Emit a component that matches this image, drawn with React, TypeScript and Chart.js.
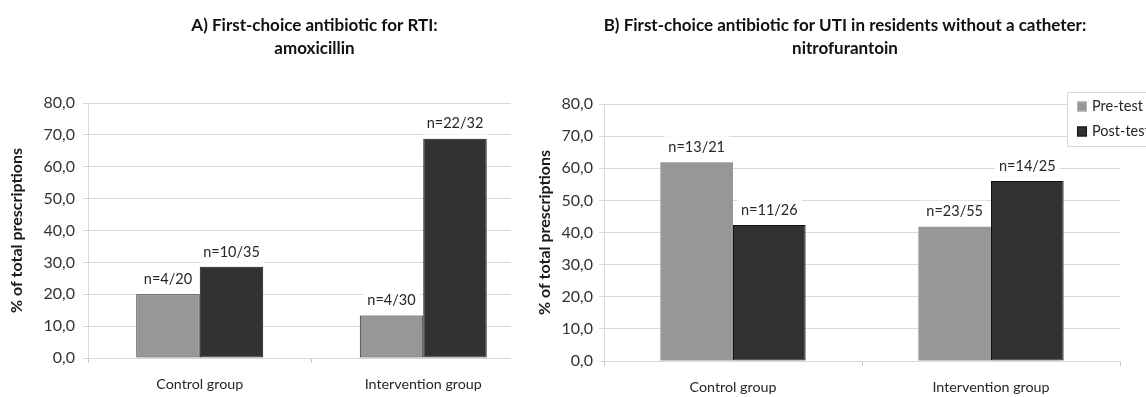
import React, { useEffect, useRef } from 'react';
import { Chart, registerables } from 'chart.js';

Chart.register(...registerables);

// ---------- data ----------
const categories = ['Control group', 'Intervention group'];
const seriesNames = ['Pre-test', 'Post-test'];

const rtiPre = [20.0, 13.3];
const rtiPost = [28.6, 68.8];
const rtiPreLabels = ['n=4/20', 'n=4/30'];
const rtiPostLabels = ['n=10/35', 'n=22/32'];

const utiPre = [61.9, 41.8];
const utiPost = [42.3, 56.0];
const utiPreLabels = ['n=13/21', 'n=23/55'];
const utiPostLabels = ['n=11/26', 'n=14/25'];

const yMin = 0;
const yMax = 80;
const yStep = 10;

const titleA = ['A) First-choice antibiotic for RTI:', 'amoxicillin'];
const titleB = ['B) First-choice antibiotic for UTI in residents without a catheter:', 'nitrofurantoin'];
const yTitle = '% of total prescriptions';

// ---------- styles ----------
const FONT = 'Lato, "DejaVu Sans", sans-serif';
const PRE_COLOR = '#979797';
const POST_COLOR = '#323232';
const GRID = '#d9d9d9';
const TEXT = '#262626';

const barLabelPlugin = {
  id: 'barLabels',
  afterDatasetsDraw(chart: any) {
    const ctx = chart.ctx;
    chart.data.datasets.forEach((ds: any, i: number) => {
      const meta = chart.getDatasetMeta(i);
      meta.data.forEach((el: any, j: number) => {
        const text = ds.nLabels ? ds.nLabels[j] : '';
        if (!text) return;
        ctx.save();
        ctx.font = `14.5px ${FONT}`;
        const w = ctx.measureText(text).width;
        const x = el.x;
        const y = el.y - 15;
        ctx.fillStyle = '#ffffff';
        ctx.fillRect(x - w / 2 - 4, y - 11, w + 8, 22);
        ctx.fillStyle = TEXT;
        ctx.textAlign = 'center';
        ctx.textBaseline = 'middle';
        ctx.fillText(text, x, y);
        ctx.restore();
      });
    });
  },
};

const titleShiftPlugin = {
  id: 'titleShift',
  afterLayout(chart: any) {
    const opts = chart.options.plugins.titleShift;
    const shift = opts && opts.dx ? opts.dx : 0;
    if (chart.titleBlock && shift) {
      chart.titleBlock.left += shift;
      chart.titleBlock.right += shift;
    }
  },
};

const boxLegendPlugin = {
  id: 'boxLegend',
  afterDraw(chart: any) {
    const opts = chart.options.plugins.boxLegend;
    if (!opts || !opts.show) return;
    const ctx = chart.ctx;
    const x0 = 556;
    const y0 = 92;
    const h = 54;
    ctx.save();
    ctx.fillStyle = '#ffffff';
    ctx.fillRect(x0, y0, 200, h);
    ctx.strokeStyle = GRID;
    ctx.lineWidth = 1;
    ctx.strokeRect(x0 + 0.5, y0 + 0.5, 200, h);
    ctx.font = `14.5px ${FONT}`;
    ctx.textBaseline = 'middle';
    ctx.textAlign = 'left';
    chart.data.datasets.forEach((ds: any, i: number) => {
      const cy = y0 + 14.5 + i * 25;
      ctx.fillStyle = ds.backgroundColor;
      ctx.fillRect(x0 + 10, cy - 5, 10, 10);
      ctx.strokeStyle = i === 0 ? '#b5b5b5' : '#111111';
      ctx.strokeRect(x0 + 10.5, cy - 4.5, 9, 9);
      ctx.fillStyle = TEXT;
      ctx.fillText(ds.label, x0 + 25, cy);
    });
    ctx.restore();
  },
};

function makeConfig(opts: {
  pre: number[];
  post: number[];
  preLabels: string[];
  postLabels: string[];
  title: string[];
  titleDx: number;
  axisWidth: number;
  axisHeight: number;
  padRight: number;
  yTitlePad: number;
  tickPad: number;
  titlePadBottom: number;
  catPct: number;
  preBorder: number;
  legend: boolean;
}) {
  return {
    type: 'bar',
    data: {
      labels: categories,
      datasets: [
        {
          label: seriesNames[0],
          data: opts.pre,
          nLabels: opts.preLabels,
          backgroundColor: PRE_COLOR,
          borderColor: '#1e1e1e',
          borderWidth: opts.preBorder,
          borderSkipped: false,
          categoryPercentage: opts.catPct,
          barPercentage: 1,
        },
        {
          label: seriesNames[1],
          data: opts.post,
          nLabels: opts.postLabels,
          backgroundColor: POST_COLOR,
          borderColor: '#111111',
          borderWidth: 1,
          borderSkipped: false,
          categoryPercentage: opts.catPct,
          barPercentage: 1,
        },
      ],
    },
    options: {
      animation: false,
      responsive: false,
      maintainAspectRatio: false,
      layout: { padding: { left: 0, right: opts.padRight, top: 0, bottom: 0 } },
      plugins: {
        legend: { display: false },
        tooltip: { enabled: false },
        title: {
          display: true,
          text: opts.title,
          fullSize: false,
          color: '#111111',
          font: { family: FONT, size: 17, weight: 'bold', lineHeight: 22.5 / 17 },
          padding: { top: 14.75, bottom: opts.titlePadBottom },
        },
        titleShift: { dx: opts.titleDx },
        boxLegend: { show: opts.legend },
      },
      scales: {
        x: {
          afterFit: (s: any) => {
            s.height = opts.axisHeight;
          },
          grid: {
            offset: true,
            drawOnChartArea: false,
            drawTicks: true,
            tickLength: 5,
            color: '#c8c8c8',
          },
          border: { color: GRID },
          ticks: { color: TEXT, font: { family: FONT, size: 14.3 }, padding: 13 },
        },
        y: {
          min: yMin,
          max: yMax,
          afterFit: (s: any) => {
            s.width = opts.axisWidth;
          },
          grid: { color: GRID, tickLength: 5, drawTicks: true },
          border: { color: GRID },
          ticks: {
            stepSize: yStep,
            color: '#333333',
            padding: opts.tickPad,
            font: { family: FONT, size: 16 },
            callback: (v: any) => Number(v).toFixed(1).replace('.', ','),
          },
          title: {
            display: true,
            text: yTitle,
            color: '#1a1a1a',
            font: { family: FONT, size: 16, weight: 'bold' },
            padding: { top: opts.yTitlePad, bottom: 0 },
          },
        },
      },
    },
    plugins: [barLabelPlugin, titleShiftPlugin, boxLegendPlugin],
  } as any;
}

export default function App() {
  const leftRef = useRef<HTMLCanvasElement>(null);
  const rightRef = useRef<HTMLCanvasElement>(null);

  useEffect(() => {
    const left = new Chart(
      leftRef.current as HTMLCanvasElement,
      makeConfig({
        pre: rtiPre,
        post: rtiPost,
        preLabels: rtiPreLabels,
        postLabels: rtiPostLabels,
        title: titleA,
        titleDx: 3,
        axisWidth: 88,
        axisHeight: 39,
        padRight: 5,
        yTitlePad: 7.4,
        tickPad: 8,
        titlePadBottom: 43.25,
        catPct: 0.568,
        preBorder: 1,
        legend: false,
      })
    );
    const right = new Chart(
      rightRef.current as HTMLCanvasElement,
      makeConfig({
        pre: utiPre,
        post: utiPost,
        preLabels: utiPreLabels,
        postLabels: utiPostLabels,
        title: titleB,
        titleDx: -17,
        axisWidth: 93,
        axisHeight: 36,
        padRight: 26,
        yTitlePad: 24.4,
        tickPad: 6,
        titlePadBottom: 44.25,
        catPct: 0.563,
        preBorder: 0,
        legend: true,
      })
    );
    return () => {
      left.destroy();
      right.destroy();
    };
  }, []);

  return (
    <div style={{ position: 'absolute', left: 0, top: 0, width: 1146, height: 397, background: '#ffffff', overflow: 'hidden' }}>
      <canvas
        ref={leftRef}
        width={540}
        height={397}
        style={{ position: 'absolute', left: 0, top: 0, width: 540, height: 397 }}
      />
      <canvas
        ref={rightRef}
        width={635}
        height={397}
        style={{ position: 'absolute', left: 511, top: 0, width: 635, height: 397, background: '#ffffff' }}
      />
    </div>
  );
}
